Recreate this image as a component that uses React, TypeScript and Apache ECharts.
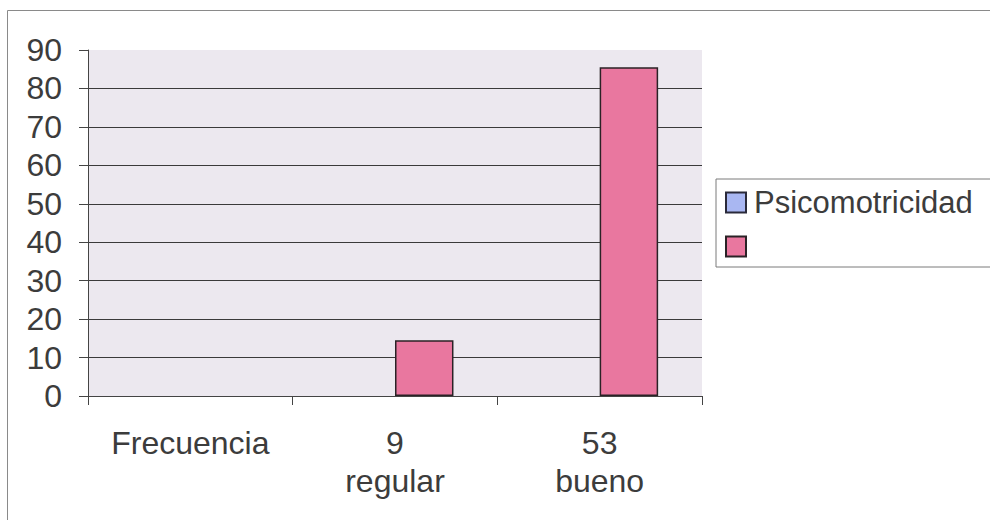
import React, { useEffect, useRef } from "react";
import * as echarts from "echarts";

const categories = ["Frecuencia", "9\nregular", "53\nbueno"];
const psicomotricidad: (number | null)[] = [null, null, null];
const porcentaje: (number | null)[] = [null, 14.5, 85.5];
const yTicks = { min: 0, max: 90, interval: 10 };

const FONT = "'Liberation Sans', Arial, sans-serif";
const TEXT = "#3c3c3c";

export default function App() {
  const ref = useRef<HTMLDivElement>(null);

  useEffect(() => {
    if (!ref.current) return;
    const chart = echarts.init(ref.current, undefined, { renderer: "svg" });
    // no gridline at the top value (90)
    const gridColors = Array.from({ length: 10 }, (_, i) => (i === 9 ? "rgba(0,0,0,0)" : "#3a3a3a"));
    chart.setOption({
      animation: false,
      backgroundColor: "#ffffff",
      textStyle: { fontFamily: FONT },
      grid: {
        left: 88,
        right: 288,
        top: 50,
        bottom: 124,
        show: true,
        backgroundColor: "#ece8ef",
        borderWidth: 0,
      },
      legend: {
        orient: "vertical",
        left: 716,
        top: 179,
        width: 290,
        padding: [8, 40, 5, 9],
        itemWidth: 20,
        itemHeight: 20,
        itemGap: 13,
        borderColor: "#7a7a7a",
        borderWidth: 1,
        icon: "rect",
        textStyle: {
          fontFamily: FONT,
          fontSize: 31,
          color: TEXT,
          padding: [0, 0, 0, 3],
        },
        data: ["Psicomotricidad", " "],
      },
      xAxis: {
        type: "category",
        data: categories,
        axisLine: { show: true, lineStyle: { color: "#444", width: 1 } },
        axisTick: { show: true, length: 9, lineStyle: { color: "#444" } },
        axisLabel: {
          fontFamily: FONT,
          fontSize: 32,
          color: TEXT,
          margin: 28,
          lineHeight: 38,
          interval: 0,
        },
        splitLine: { show: false },
      },
      yAxis: {
        type: "value",
        min: yTicks.min,
        max: yTicks.max,
        interval: yTicks.interval,
        axisLine: { show: true, lineStyle: { color: "#444", width: 1 } },
        axisTick: { show: true, length: 9, inside: false, lineStyle: { color: "#444" } },
        axisLabel: { fontFamily: FONT, fontSize: 32, color: TEXT, margin: 26 },
        splitLine: { show: true, lineStyle: { color: gridColors, width: 1 } },
      },
      series: [
        {
          name: "Psicomotricidad",
          type: "bar",
          data: psicomotricidad,
          barGap: "0%",
          barCategoryGap: "42.86%",
          itemStyle: { color: "#a9b7f2", borderColor: "#2a2a3a", borderWidth: 1.5 },
        },
        {
          name: " ",
          type: "bar",
          data: porcentaje,
          barGap: "0%",
          barCategoryGap: "42.86%",
          itemStyle: { color: "#e9779f", borderColor: "#2a2226", borderWidth: 1.5 },
        },
      ],
      graphic: [
        {
          type: "rect",
          left: 5,
          top: 8,
          shape: { width: 990, height: 510 },
          style: { fill: "none", stroke: "#8a8a8a", lineWidth: 1 },
          silent: true,
        },
      ],
    });
    return () => chart.dispose();
  }, []);

  return (
    <div
      ref={ref}
      style={{ position: "fixed", left: 0, top: 0, width: 990, height: 520 }}
    />
  );
}
